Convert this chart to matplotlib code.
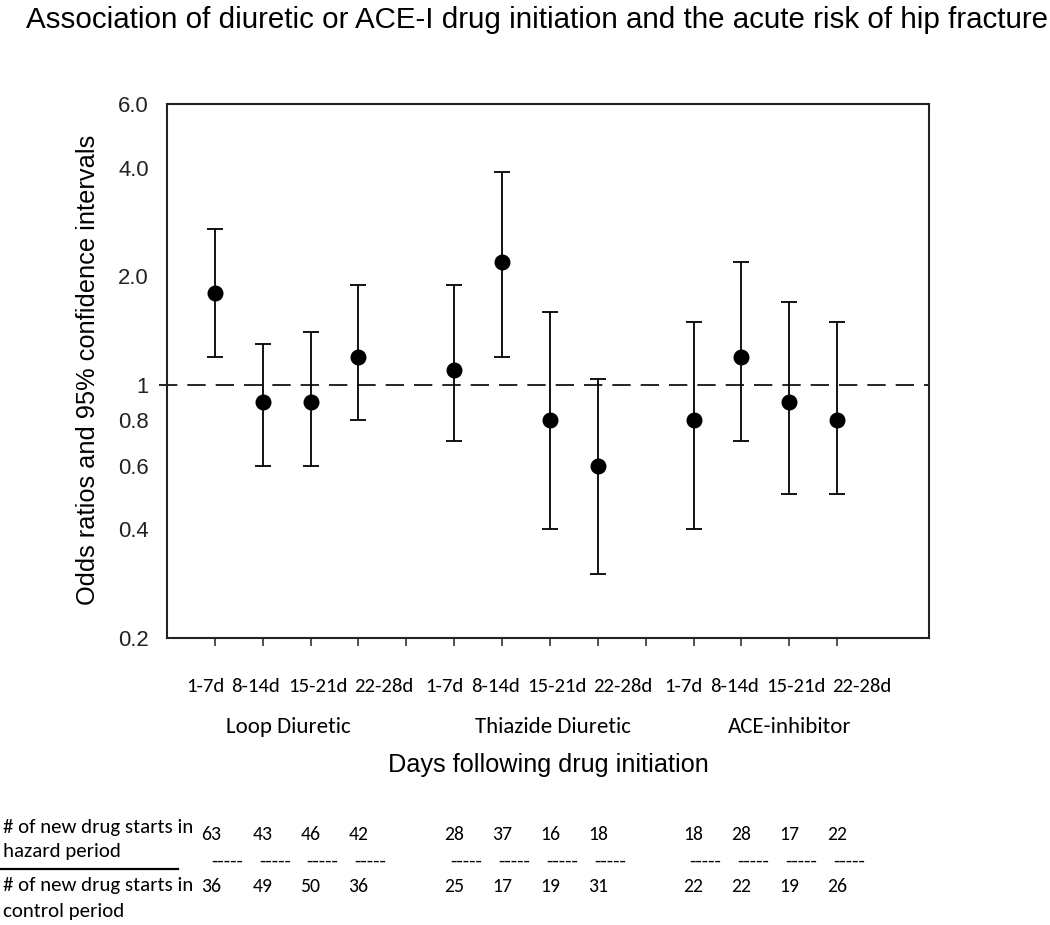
import matplotlib
matplotlib.use("Agg")
import matplotlib.pyplot as plt
from matplotlib.transforms import blended_transform_factory, offset_copy
from matplotlib.ticker import NullLocator, FixedLocator
from matplotlib import font_manager as fm
from matplotlib.lines import Line2D

# ---------------- data ----------------
groups = ["Loop Diuretic", "Thiazide Diuretic", "ACE-inhibitor"]
periods = ["1-7d", "8-14d", "15-21d", "22-28d"]
odds_ratio = [1.8, 0.9, 0.9, 1.2, 1.1, 2.2, 0.8, 0.6, 0.8, 1.2, 0.9, 0.8]
ci_lower = [1.2, 0.6, 0.6, 0.8, 0.7, 1.2, 0.4, 0.3, 0.4, 0.7, 0.5, 0.5]
ci_upper = [2.7, 1.3, 1.4, 1.9, 1.9, 3.9, 1.6, 1.04, 1.5, 2.2, 1.7, 1.5]
hazard_starts = [63, 43, 46, 42, 28, 37, 16, 18, 18, 28, 17, 22]
control_starts = [36, 49, 50, 36, 25, 17, 19, 31, 22, 22, 19, 26]
y_ticks = [0.2, 0.4, 0.6, 0.8, 1, 2, 4, 6]
y_tick_labels = ["0.2", "0.4", "0.6", "0.8", "1", "2.0", "4.0", "6.0"]

title = "Association of diuretic or ACE-I drug initiation and the acute risk of hip fracture"
y_label = "Odds ratios and 95% confidence intervals"
x_label = "Days following drug initiation"
row1_label = ["# of new drug starts in", "hazard period"]
row2_label = ["# of new drug starts in", "control period"]

# ---------------- fonts ----------------
names = {f.name for f in fm.fontManager.ttflist}
ARIAL = ["Liberation Sans", "DejaVu Sans"]
CAL = ["Carlito", "Lato", "DejaVu Sans"] if "Carlito" in names else ["Lato", "DejaVu Sans"]

W, H = 1050, 925
fig = plt.figure(figsize=(W / 100, H / 100), dpi=100)
L, R, T, B = 167, 929, 104, 638
ax = fig.add_axes([L / W, 1 - B / H, (R - L) / W, (B - T) / H])

n_per = len(periods)
xs = [g * (n_per + 1) + p + 1 for g in range(len(groups)) for p in range(n_per)]
yerr = [[o - lo for o, lo in zip(odds_ratio, ci_lower)],
        [hi - o for o, hi in zip(odds_ratio, ci_upper)]]

ax.errorbar(xs, odds_ratio, yerr=yerr, fmt="o", color="black", ms=10.5,
            elinewidth=1.3, capsize=6, capthick=1.3, zorder=3)
ax.axhline(1, xmin=-0.011, xmax=1, color="black", lw=1.2, dashes=(11, 6),
           clip_on=False, zorder=2)

ax.set_yscale("log")
ax.set_ylim(0.2, 6.0)
ax.set_xlim(0, 15.92)
ax.yaxis.set_major_locator(FixedLocator(y_ticks))
ax.set_yticklabels(y_tick_labels, family=ARIAL, fontsize=15)
ax.yaxis.set_minor_locator(NullLocator())
ax.tick_params(axis="y", length=0, pad=13, colors="#222222")
ax.set_xticks(xs + [n_per + 1, 2 * (n_per + 1)])
ax.set_xticklabels([])
ax.tick_params(axis="x", length=6, width=1.1, direction="out", color="#222222")
for s in ax.spines.values():
    s.set_linewidth(1.5)
    s.set_color("#222222")

def fy(y):
    return 1 - y / H

def fx(x):
    return x / W

renderer = fig.canvas.get_renderer()

def fit(t, target):
    w = t.get_window_extent(renderer).width
    t.set_fontsize(t.get_fontsize() * target / w)

t_title = fig.text(fx(537.5), fy(20), title, ha="center", va="center",
                   family=ARIAL, fontsize=18, color="black")
fit(t_title, 1021)
t_yl = fig.text(fx(88), fy(370), y_label, ha="center", va="center",
                rotation=90, family=ARIAL, fontsize=17)
h = t_yl.get_window_extent(renderer).height
t_yl.set_fontsize(t_yl.get_fontsize() * 470 / h)

# y tick label size
fig.canvas.draw()
lab6 = [t for t in ax.get_yticklabels() if t.get_text() == "6.0"][0]
w6 = lab6.get_window_extent(renderer).width
ysz = 15 * 31 / w6
for t in ax.get_yticklabels():
    t.set_fontsize(ysz)

t_xl = fig.text(fx(548), fy(765), x_label, ha="center", va="center",
                family=ARIAL, fontsize=17)
fit(t_xl, 321)

trans = blended_transform_factory(ax.transData, fig.transFigure)

# period tick labels
per_off = [-10, -7, 7, 25]
tick_texts = []
for i, x in enumerate(xs):
    p = i % n_per
    tr = offset_copy(trans, fig=fig, x=per_off[p], y=0, units="dots")
    tick_texts.append(ax.text(x, fy(687), periods[p], transform=tr, ha="center",
                              va="center", family=CAL, fontsize=14, clip_on=False))
fig.canvas.draw()
wref = tick_texts[3].get_window_extent(renderer).width
tsz = 14 * 60 / wref
for t in tick_texts:
    t.set_fontsize(tsz)

# group labels
grp_off = [2, 27, 24]
gtexts = []
for g, name in enumerate(groups):
    xc = sum(xs[g * n_per:(g + 1) * n_per]) / n_per
    tr = offset_copy(trans, fig=fig, x=grp_off[g], y=0, units="dots")
    gtexts.append(ax.text(xc, fy(727), name, transform=tr, ha="center", va="center",
                          family=CAL, fontsize=14, clip_on=False))
fig.canvas.draw()
wg = gtexts[0].get_window_extent(renderer).width
gsz = 14 * 125 / wg
for t in gtexts:
    t.set_fontsize(gsz)

# table
tab_sz = 13
r1a = fig.text(fx(3), fy(827), row1_label[0], ha="left", va="center", family=CAL, fontsize=tab_sz)
fig.canvas.draw()
tab_sz = tab_sz * 190 / r1a.get_window_extent(renderer).width
r1a.set_fontsize(tab_sz)
fig.text(fx(3), fy(852), row1_label[1], ha="left", va="center", family=CAL, fontsize=tab_sz)
fig.text(fx(3), fy(886), row2_label[0], ha="left", va="center", family=CAL, fontsize=tab_sz)
fig.text(fx(3), fy(912), row2_label[1], ha="left", va="center", family=CAL, fontsize=tab_sz)
fig.add_artist(Line2D([0, fx(178)], [fy(869), fy(869)], color="black", lw=1.6,
                      transform=fig.transFigure))

num_sz = tab_sz * 0.95
for i, (x, hz, ct) in enumerate(zip(xs, hazard_starts, control_starts)):
    dx = -4 if i == 0 else 0
    trn = offset_copy(trans, fig=fig, x=dx, y=0, units="dots")
    ax.text(x, fy(835), str(hz), transform=trn, ha="center", va="center",
            family=CAL, fontsize=num_sz, clip_on=False)
    ax.text(x, fy(886), str(ct), transform=trn, ha="center", va="center",
            family=CAL, fontsize=num_sz, clip_on=False)
    trd = offset_copy(trans, fig=fig, x=12, y=0, units="dots")
    ax.text(x, fy(861), "-----", transform=trd, ha="center", va="center",
            family=CAL, fontsize=num_sz * 1.05, clip_on=False)

fig.savefig("out.png", dpi=100, facecolor="white")
